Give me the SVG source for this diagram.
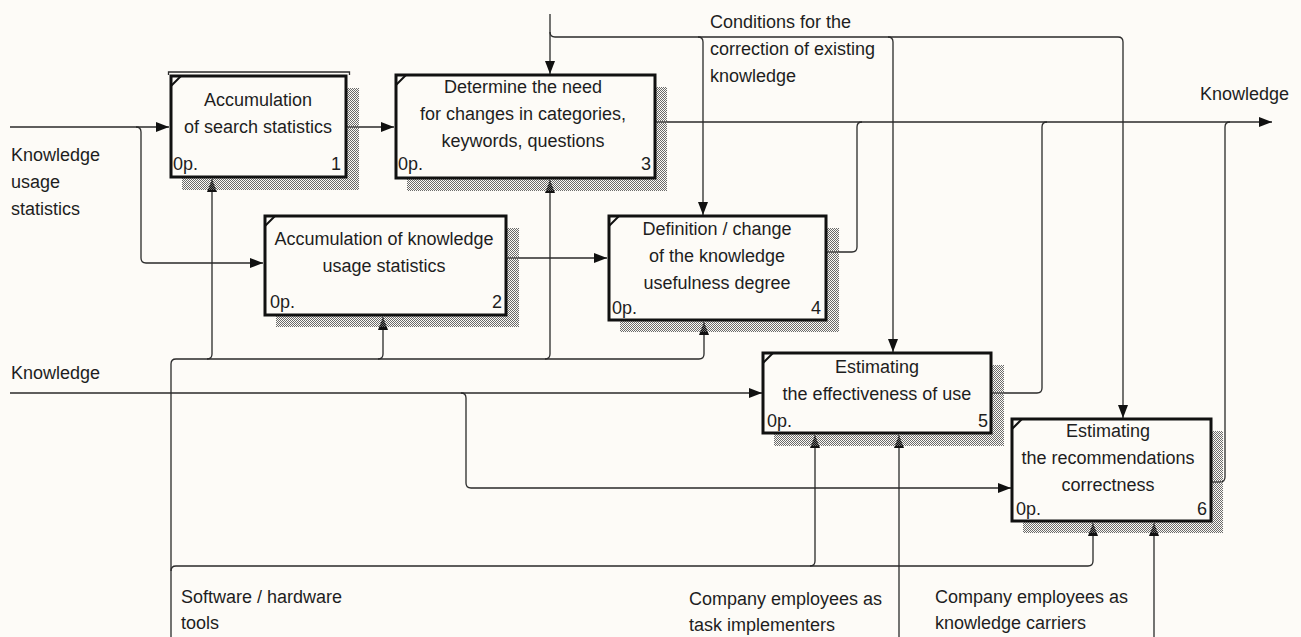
<svg xmlns="http://www.w3.org/2000/svg" width="1301" height="637" viewBox="0 0 1301 637">
<style>
text{font-family:"Liberation Sans",Arial,sans-serif;font-size:18px;fill:#1e1e1e}
.c{text-anchor:middle}
.e{text-anchor:end}
.box{fill:#fdfbf7;stroke:#111;stroke-width:3}
.sh{fill:url(#dither)}
.tick{stroke:#111;stroke-width:2;fill:none}
.ln{fill:none;stroke:#2a2a2a;stroke-width:1.3}
.ar{marker-end:url(#ah)}
</style>
<defs>
<pattern id="dither" width="2" height="2" patternUnits="userSpaceOnUse">
<rect x="0" y="0" width="1" height="1" fill="#6a6a6a"/>
<rect x="1" y="1" width="1" height="1" fill="#6a6a6a"/>
</pattern>
<marker id="ah" markerUnits="userSpaceOnUse" markerWidth="14" markerHeight="12" refX="13" refY="5" orient="auto">
<path d="M0,0 L13,5 L0,10 Z" fill="#111"/>
</marker>
</defs>
<rect width="1301" height="637" fill="#fdfbf7"/>

<g id="connectors">
<path class="ln ar" d="M10,127 H169"/>
<path class="ln ar" d="M136,127 Q141,127 141,132 V258 Q141,263 146,263 H263"/>
<path class="ln ar" d="M347,127 H394"/>
<path class="ln ar" d="M507,258 H607"/>
<path class="ln ar" d="M656,122 H1272"/>
<path class="ln" d="M827,252 H852 Q857,252 857,247 V127 Q857,122 862,122"/>
<path class="ln" d="M992,393 H1037 Q1042,393 1042,388 V127 Q1042,122 1047,122"/>
<path class="ln" d="M1212,482 H1220 Q1225,482 1225,477 V127 Q1225,122 1230,122"/>
<path class="ln ar" d="M550,14 V74"/>
<path class="ln ar" d="M550,32 Q550,37 555,37 H1118 Q1123,37 1123,42 V418"/>
<path class="ln ar" d="M698,37 Q703,37 703,42 V215"/>
<path class="ln ar" d="M888,37 Q893,37 893,42 V352"/>
<path class="ln ar" d="M10,393 H762"/>
<path class="ln ar" d="M461,393 Q466,393 466,398 V483 Q466,488 471,488 H1011"/>
<path class="ln ar" d="M171,637 V364 Q171,359 176,359 H699 Q704,359 704,354 V322"/>
<path class="ln ar" d="M207,359 Q212,359 212,354 V179"/>
<path class="ln ar" d="M378,359 Q383,359 383,354 V317"/>
<path class="ln ar" d="M545,359 Q550,359 550,354 V180"/>
<path class="ln ar" d="M171,571 Q171,566 176,566 H1088 Q1093,566 1093,561 V523"/>
<path class="ln ar" d="M810,566 Q815,566 815,561 V435"/>
<path class="ln ar" d="M899,637 V435"/>
<path class="ln ar" d="M1154,637 V523"/>
</g>

<g id="labels">
<text x="11" y="161">Knowledge</text>
<text x="11" y="188">usage</text>
<text x="11" y="215">statistics</text>
<text x="11" y="379">Knowledge</text>
<text x="1200" y="100">Knowledge</text>
<text x="710" y="28">Conditions for the</text>
<text x="710" y="55">correction of existing</text>
<text x="710" y="82">knowledge</text>
<text x="181" y="603">Software / hardware</text>
<text x="181" y="629">tools</text>
<text x="689" y="605">Company employees as</text>
<text x="689" y="631">task implementers</text>
<text x="935" y="603">Company employees as</text>
<text x="935" y="629">knowledge carriers</text>
</g>

<g id="node1">
<rect class="sh" x="182" y="88" width="177" height="102"/>
<path class="ln" d="M168.5,75 V72 H349.5 V75"/>
<rect class="box" x="171" y="76" width="175" height="101"/>
<path class="tick" d="M171,86 L181,76"/>
<text class="c" x="258" y="106">Accumulation</text>
<text class="c" x="258" y="133">of search statistics</text>
<text x="173" y="170">0p.</text>
<text class="e" x="341" y="170">1</text>
</g>

<g id="node2">
<rect class="sh" x="276" y="228" width="243" height="99"/>
<rect class="box" x="265" y="216" width="241" height="99"/>
<path class="tick" d="M265,226 L275,216"/>
<text class="c" x="384" y="245">Accumulation of knowledge</text>
<text class="c" x="384" y="272">usage statistics</text>
<text x="270" y="308">0p.</text>
<text class="e" x="502" y="308">2</text>
</g>

<g id="node3">
<rect class="sh" x="407" y="87" width="260" height="104"/>
<rect class="box" x="396" y="75" width="259" height="103"/>
<path class="tick" d="M396,85 L406,75"/>
<text class="c" x="523" y="93">Determine the need</text>
<text class="c" x="523" y="120">for changes in categories,</text>
<text class="c" x="523" y="147">keywords, questions</text>
<text x="398" y="170">0p.</text>
<text class="e" x="651" y="170">3</text>
</g>

<g id="node4">
<rect class="sh" x="620" y="228" width="219" height="104"/>
<rect class="box" x="609" y="216" width="217" height="104"/>
<path class="tick" d="M609,226 L619,216"/>
<text class="c" x="717" y="235">Definition / change</text>
<text class="c" x="717" y="262">of the knowledge</text>
<text class="c" x="717" y="289">usefulness degree</text>
<text x="612" y="314">0p.</text>
<text class="e" x="821" y="314">4</text>
</g>

<g id="node5">
<rect class="sh" x="774" y="365" width="230" height="81"/>
<rect class="box" x="763" y="353" width="228" height="80"/>
<path class="tick" d="M763,363 L773,353"/>
<text class="c" x="877" y="373">Estimating</text>
<text class="c" x="877" y="400">the effectiveness of use</text>
<text x="767" y="427">0p.</text>
<text class="e" x="988" y="427">5</text>
</g>

<g id="node6">
<rect class="sh" x="1023" y="431" width="200" height="102"/>
<rect class="box" x="1012" y="419" width="199" height="102"/>
<path class="tick" d="M1012,429 L1022,419"/>
<text class="c" x="1108" y="437">Estimating</text>
<text class="c" x="1108" y="464">the recommendations</text>
<text class="c" x="1108" y="491">correctness</text>
<text x="1016" y="515">0p.</text>
<text class="e" x="1207" y="515">6</text>
</g>
</svg>
